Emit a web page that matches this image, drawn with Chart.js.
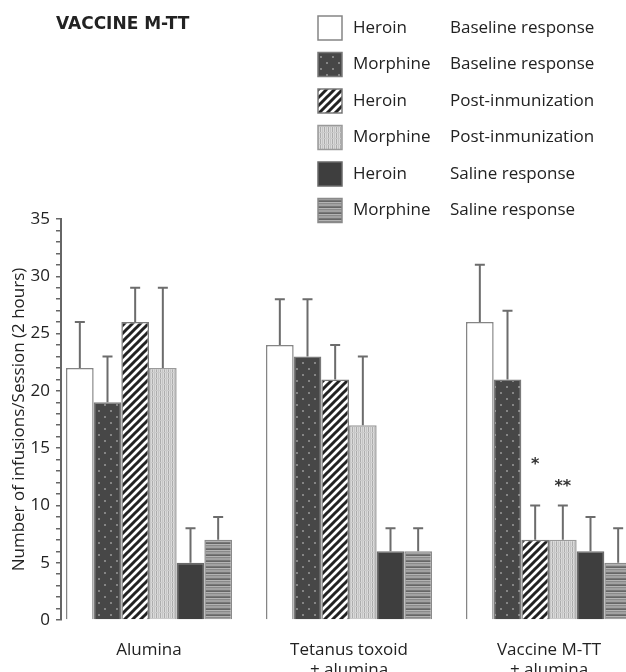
<!DOCTYPE html>
<html>
<head>
<meta charset="utf-8">
<title>Vaccine M-TT</title>
<script src="https://cdn.jsdelivr.net/npm/chart.js@4.4.0/dist/chart.umd.min.js"></script>
<style>
  html, body { margin: 0; padding: 0; background: #fff; overflow: hidden; }
</style>
</head>
<body>
<canvas id="vaccineChart" width="626" height="672"></canvas>
<script>
// categories on the x axis (index 0..2)
const categories = ['Alumina', ['Tetanus toxoid', '+ alumina'], ['Vaccine M-TT', '+ alumina']];
const drugs = ['Heroin', 'Morphine', 'Heroin', 'Morphine', 'Heroin', 'Morphine'];
const phases = ['Baseline response', 'Baseline response', 'Post-inmunization', 'Post-inmunization', 'Saline response', 'Saline response'];

// mean infusions per series, one value per category
const heroinBaseline = [22, 24, 26];
const morphineBaseline = [19, 23, 21];
const heroinPost = [26, 21, 7];
const morphinePost = [22, 17, 7];
const heroinSaline = [5, 6, 6];
const morphineSaline = [7, 6, 5];

// upper error (SEM) per series
const heroinBaselineErr = [4, 4, 5];
const morphineBaselineErr = [4, 5, 6];
const heroinPostErr = [3, 3, 3];
const morphinePostErr = [7, 6, 3];
const heroinSalineErr = [3, 2, 3];
const morphineSalineErr = [2, 2, 3];

// significance marks
const starCategory = [2, 2];
const starSeries = [2, 3];
const starText = ['*', '**'];
const starLevel = [13.9, 12.0];

const yMax = 35;
const yLabelStep = 5;
const chartTitle = 'VACCINE M-TT';
const yTitle = 'Number of infusions/Session (2 hours)';

const seriesValues = [heroinBaseline, morphineBaseline, heroinPost, morphinePost, heroinSaline, morphineSaline];
const seriesErrors = [heroinBaselineErr, morphineBaselineErr, heroinPostErr, morphinePostErr, heroinSalineErr, morphineSalineErr];

// fill patterns
function makePattern(w, h, paint) {
  const c = document.createElement('canvas');
  c.width = w;
  c.height = h;
  const g = c.getContext('2d');
  paint(g, w, h);
  return g.createPattern(c, 'repeat');
}

const fills = [
  '#ffffff',
  makePattern(12, 12, (g) => {
    g.fillStyle = '#474747'; g.fillRect(0, 0, 12, 12);
    g.fillStyle = '#858585';
    g.fillRect(2, 2, 2, 2);
    g.fillRect(8, 8, 2, 2);
  }),
  makePattern(8, 8, (g) => {
    g.fillStyle = '#ffffff'; g.fillRect(0, 0, 8, 8);
    g.strokeStyle = '#222'; g.lineWidth = 3;
    g.beginPath();
    g.moveTo(-2, 10); g.lineTo(10, -2);
    g.moveTo(-2, 2); g.lineTo(2, -2);
    g.moveTo(6, 10); g.lineTo(10, 6);
    g.stroke();
  }),
  makePattern(4, 6, (g) => {
    g.fillStyle = '#dadada'; g.fillRect(0, 0, 4, 6);
    g.fillStyle = '#adadad'; g.fillRect(0, 0, 1, 6);
    g.fillStyle = '#c4c4c4'; g.fillRect(2, 0, 1, 6);
    g.fillStyle = '#cacaca'; g.fillRect(0, 0, 4, 1);
  }),
  '#3e3e3e',
  makePattern(1, 6, (g) => {
    const rows = ['#a2a2a2', '#a2a2a2', '#787878', '#666666', '#b4b4b4', '#8a8a8a'];
    rows.forEach((col, r) => { g.fillStyle = col; g.fillRect(0, r, 1, 1); });
  }),
];
const borders = ['#858585', '#7a7a7a', '#7a7a7a', '#9a9a9a', '#6a6a6a', '#8a8a8a'];

const datasets = seriesValues.map((vals, d) => ({
  label: drugs[d] + ' ' + phases[d],
  data: vals,
  backgroundColor: fills[d],
  borderColor: borders[d],
  borderWidth: 1.5,
  categoryPercentage: 0.83,
  barPercentage: 1,
}));

const errorBars = {
  id: 'errorBars',
  afterDatasetsDraw(chart) {
    const { ctx } = chart;
    const y = chart.scales.y;
    ctx.save();
    ctx.strokeStyle = '#6c6c6c';
    ctx.lineWidth = 2;
    chart.data.datasets.forEach((ds, d) => {
      chart.getDatasetMeta(d).data.forEach((bar, i) => {
        const top = y.getPixelForValue(ds.data[i] + seriesErrors[d][i]);
        ctx.beginPath();
        ctx.moveTo(bar.x, bar.y);
        ctx.lineTo(bar.x, top);
        ctx.moveTo(bar.x - 5, top);
        ctx.lineTo(bar.x + 5, top);
        ctx.stroke();
      });
    });
    // asterisks
    ctx.fillStyle = '#333';
    ctx.font = 'bold 16px "DejaVu Sans"';
    ctx.textAlign = 'center';
    ctx.textBaseline = 'alphabetic';
    starText.forEach((t, k) => {
      const bar = chart.getDatasetMeta(starSeries[k]).data[starCategory[k]];
      const m = ctx.measureText(t);
      const cy = y.getPixelForValue(starLevel[k]);
      ctx.fillText(t, bar.x, cy + (m.actualBoundingBoxAscent - m.actualBoundingBoxDescent) / 2);
    });
    ctx.restore();
  },
};

const legendBox = {
  id: 'legendBox',
  afterDraw(chart) {
    const { ctx } = chart;
    ctx.save();
    // title
    ctx.fillStyle = '#222';
    ctx.font = 'bold 17px "DejaVu Sans"';
    ctx.textAlign = 'left';
    ctx.textBaseline = 'middle';
    ctx.fillText(chartTitle, 56, 25);

    ctx.font = '17px "Open Sans"';
    drugs.forEach((drug, k) => {
      const cy = 28 + k * 36.5;
      ctx.fillStyle = fills[k];
      ctx.fillRect(318, cy - 12, 24, 24);
      ctx.strokeStyle = borders[k];
      ctx.lineWidth = 1.5;
      ctx.strokeRect(318, cy - 12, 24, 24);
      ctx.fillStyle = '#222';
      ctx.fillText(drug, 353, cy);
      ctx.fillText(phases[k], 450, cy);
    });
    ctx.restore();
  },
};

new Chart(document.getElementById('vaccineChart'), {
  type: 'bar',
  data: {
    labels: categories.map((c, i) => i),
    datasets,
  },
  options: {
    responsive: false,
    animation: false,
    layout: { padding: { top: 219, left: 0, right: 0, bottom: 0 } },
    plugins: {
      legend: { display: false },
      tooltip: { enabled: false },
    },
    scales: {
      x: {
        type: 'linear',
        min: -0.44,
        max: 2.385,
        offset: false,
        grid: { display: false },
        border: { display: false },
        ticks: {
          stepSize: 1,
          includeBounds: false,
          autoSkip: false,
          maxRotation: 0,
          padding: 12,
          color: '#222',
          font: { family: 'Open Sans', size: 17 },
          callback: (v) => (Number.isInteger(v) ? categories[v] : ''),
        },
        afterFit: (s) => { s.height = 52; },
      },
      y: {
        min: 0,
        max: yMax,
        ticks: {
          stepSize: 1,
          maxTicksLimit: 100,
          autoSkip: false,
          padding: 6,
          color: '#222',
          font: { family: 'Open Sans', size: 17 },
          callback: (v) => (v % yLabelStep === 0 ? v : ''),
        },
        grid: { drawOnChartArea: false, tickLength: 5, color: '#666', lineWidth: 1.5 },
        border: { color: '#666', width: 2 },
        title: {
          display: true,
          text: yTitle,
          color: '#222',
          font: { family: 'Open Sans', size: 17 },
          padding: { top: 9, bottom: 0 },
        },
        afterFit: (s) => { s.width = 61; },
      },
    },
  },
  plugins: [errorBars, legendBox],
});
</script>
</body>
</html>
